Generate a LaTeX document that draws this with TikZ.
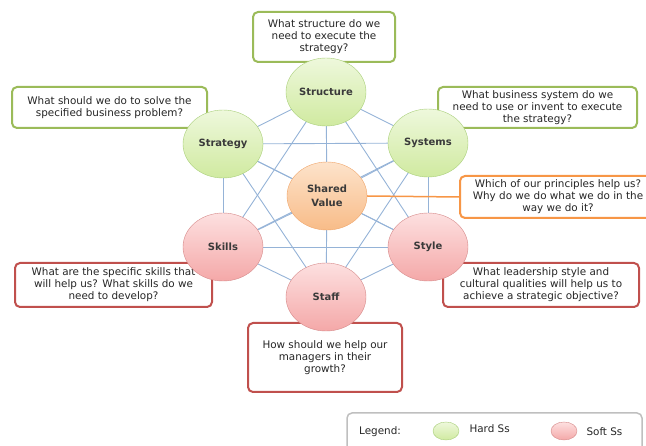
\documentclass[tikz,border=0pt]{standalone}
\usepackage{fontspec}
\setmainfont{DejaVu Sans}
\usetikzlibrary{shapes.geometric,backgrounds}
\definecolor{hardtop}{HTML}{EEF8DC}
\definecolor{hardbot}{HTML}{D0EAA0}
\definecolor{hardline}{HTML}{A9CF7A}
\definecolor{softtop}{HTML}{FDE0E0}
\definecolor{softbot}{HTML}{F4A8A8}
\definecolor{softline}{HTML}{D68A8A}
\definecolor{sharedtop}{HTML}{FDE3CB}
\definecolor{sharedbot}{HTML}{F8BC88}
\definecolor{sharedline}{HTML}{EFA66C}
\definecolor{hardframe}{HTML}{9BBB59}
\definecolor{softframe}{HTML}{C0504D}
\definecolor{sharedframe}{HTML}{F79646}
\definecolor{linkblue}{HTML}{95B3D7}
\definecolor{textgray}{HTML}{262626}
\definecolor{labelgray}{HTML}{3A3A3A}
\begin{document}
\begin{tikzpicture}[x=1pt,y=-1pt,
  every node/.style={font=\fontsize{10.4}{12}\selectfont,text=textgray},
  sball/.style={ellipse,draw=#1line,top color=#1top,bottom color=#1bot,
    minimum width=80,minimum height=68,inner sep=0pt,align=center,
    text=labelgray,font=\bfseries\fontsize{10}{13.5}\selectfont},
  qbox/.style={draw=#1,line width=2pt,rounded corners=5pt,fill=white,
    align=center,inner sep=0pt},
  link/.style={draw=linkblue,line width=0.9pt}]
  \useasboundingbox (0,0) rectangle (646,446);
  \clip (0,0) rectangle (646,446);
  \node[qbox=hardframe,minimum width=142,minimum height=50] (qstructure) at (324,37) {What structure do we\\need to execute the\\strategy?};
  \node[qbox=hardframe,minimum width=195,minimum height=41] (qstrategy) at (109.5,107.5) {What should we do to solve the\\specified business problem?};
  \node[qbox=hardframe,minimum width=199,minimum height=41] (qsystems) at (537.5,107.5) {What business system do we\\need to use or invent to execute\\the strategy?};
  \node[qbox=sharedframe,minimum width=196,minimum height=42] (qshared) at (558,197) {Which of our principles help us?\\Why do we do what we do in the\\way we do it?};
  \node[qbox=softframe,minimum width=197,minimum height=44] (qskills) at (113.5,285) {What are the specific skills that\\will help us? What skills do we\\need to develop?};
  \node[qbox=softframe,minimum width=196,minimum height=44] (qstyle) at (541,285) {What leadership style and\\cultural qualities will help us to\\achieve a strategic objective?};
  \node[qbox=softframe,minimum width=154,minimum height=69] (qstaff) at (325,357.5) {How should we help our\\managers in their\\growth?};
  \node[sball=hard] (structure) at (326,92) {Structure};
  \node[sball=hard] (strategy) at (223,144) {Strategy};
  \node[sball=hard] (systems) at (428,143) {Systems};
  \node[sball=shared] (shared) at (327,196) {Shared\\Value};
  \node[sball=soft] (skills) at (223,247) {Skills};
  \node[sball=soft] (style) at (428,247) {Style};
  \node[sball=soft] (staff) at (326,297) {Staff};
  \begin{pgfonlayer}{background}
    \foreach \a/\b in {structure/systems,structure/style,structure/staff,structure/skills,
      structure/strategy,structure/shared,systems/style,systems/staff,systems/skills,
      systems/strategy,systems/shared,style/staff,style/skills,style/strategy,style/shared,
      staff/skills,staff/strategy,staff/shared,skills/strategy,skills/shared,strategy/shared}
      \draw[link] (\a.center) -- (\b.center);
  \end{pgfonlayer}
  \draw[sharedframe,line width=1.5pt] (shared.east) -- (qshared.west);
  \draw[draw=black!25,line width=1.5pt,rounded corners=5pt,fill=white] (347,413) rectangle (642,470);
  \node (legend) at (380,432) {Legend:};
  \node[ellipse,draw=hardline,top color=hardtop,bottom color=hardbot,minimum width=26,minimum height=18,inner sep=0pt] (hardkey) at (446,431) {};
  \node[anchor=west] (hardtext) at (466,429) {Hard Ss};
  \node[ellipse,draw=softline,top color=softtop,bottom color=softbot,minimum width=26,minimum height=18,inner sep=0pt] (softkey) at (564,431) {};
  \node[anchor=west] (softtext) at (583,432) {Soft Ss};
\end{tikzpicture}
\end{document}
